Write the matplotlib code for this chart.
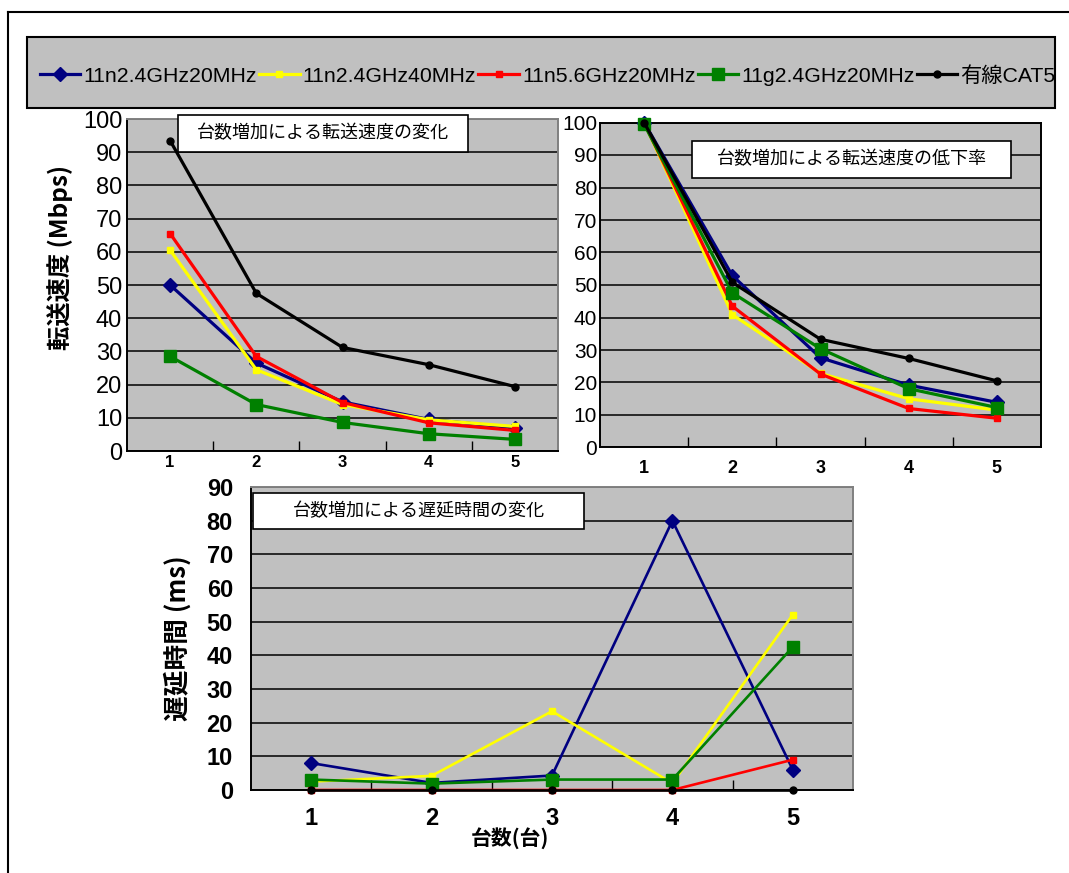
import matplotlib
matplotlib.use('Agg')
import matplotlib.pyplot as plt
from matplotlib.patches import Rectangle
from matplotlib.lines import Line2D
from matplotlib.ticker import FixedLocator

# ---------------- data ----------------
units = [1, 2, 3, 4, 5]
series_names = ['11n2.4GHz20MHz', '11n2.4GHz40MHz', '11n5.6GHz20MHz',
                '11g2.4GHz20MHz', '有線CAT5']

speed_n24_20 = [50, 26.5, 14.8, 9.5, 7.0]
speed_n24_40 = [60.5, 24.5, 14.0, 9.4, 7.4]
speed_n56_20 = [65.5, 28.5, 14.6, 8.5, 6.2]
speed_g24_20 = [28.5, 14.0, 8.6, 5.2, 3.5]
speed_cat5 = [93.5, 47.5, 31.2, 26.0, 19.4]

rate_n24_20 = [100, 52.9, 27.6, 19.2, 13.9]
rate_n24_40 = [100, 40.9, 22.8, 15.0, 11.5]
rate_n56_20 = [100, 43.5, 22.6, 12.0, 9.0]
rate_g24_20 = [99.5, 47.6, 30.4, 18.1, 12.3]
rate_cat5 = [100, 50.8, 33.3, 27.4, 20.5]

delay_n24_20 = [8.0, 2.1, 4.3, 80.0, 6.0]
delay_n24_40 = [2.5, 4.2, 23.4, 2.0, 52.1]
delay_n56_20 = [0, 0, 0, 0, 9.0]
delay_g24_20 = [3.1, 1.9, 3.1, 3.1, 42.5]
delay_cat5 = [0, 0, 0, 0, 0]

speed = [speed_n24_20, speed_n24_40, speed_n56_20, speed_g24_20, speed_cat5]
rate = [rate_n24_20, rate_n24_40, rate_n56_20, rate_g24_20, rate_cat5]
delay = [delay_n24_20, delay_n24_40, delay_n56_20, delay_g24_20, delay_cat5]

title_speed = '台数増加による転送速度の変化'
title_rate = '台数増加による転送速度の低下率'
title_delay = '台数増加による遅延時間の変化'

# ---------------- styles ----------------
colors = ['#000080', '#FFFF00', '#FF0000', '#008000', '#000000']
markers = ['D', 's', 's', 's', 'o']
msizes = [7.5, 5.0, 5.0, 8.5, 5.0]

LAT = ['Liberation Sans', 'Noto Sans CJK JP']
plt.rcParams['font.family'] = LAT

W, H = 1069, 873
fig = plt.figure(figsize=(W / 100, H / 100), dpi=100)


def rect(l, t, r, b):
    return [l / W, 1 - b / H, (r - l) / W, (b - t) / H]


GRAY = '#C0C0C0'


def setup(ax, ymax, ystep, ytick_fs, ytick_pad, xtick_fs, xtick_pad, xbold, ybold,
          spine_colors):
    ax.set_facecolor(GRAY)
    ax.set_xlim(0.5, 5.5)
    ax.set_ylim(0, ymax)
    ax.set_xticks(units)
    ax.xaxis.set_minor_locator(FixedLocator([1.5, 2.5, 3.5, 4.5]))
    ax.set_yticks(list(range(0, ymax + 1, ystep)))
    ax.tick_params(axis='x', which='major', length=0, pad=xtick_pad)
    ax.tick_params(axis='x', which='minor', direction='in', length=7, width=1, color='black')
    ax.tick_params(axis='y', length=0, pad=ytick_pad)
    for lab in ax.get_xticklabels():
        lab.set_fontsize(xtick_fs)
        lab.set_fontweight('bold' if xbold else 'normal')
    for lab in ax.get_yticklabels():
        lab.set_fontsize(ytick_fs)
        lab.set_fontweight('bold' if ybold else 'normal')
    ax.grid(axis='y', color='black', linewidth=1.1)
    ax.set_axisbelow(True)
    for side, c in spine_colors.items():
        ax.spines[side].set_color(c)
        ax.spines[side].set_linewidth(1.4)


def draw(ax, data, lw):
    handles = []
    for vals, c, m, ms, name in zip(data, colors, markers, msizes, series_names):
        h, = ax.plot(units, vals, color=c, marker=m, markersize=ms, linewidth=lw,
                     markeredgecolor=c, label=name, clip_on=False, zorder=3)
        handles.append(h)
    return handles


# top-left: speed
ax1 = fig.add_axes(rect(127, 119, 558, 451))
setup(ax1, 100, 10, 17, 3.5, 12, 3, True, False,
      {'left': 'black', 'bottom': 'black', 'top': '#808080', 'right': '#808080'})
handles = draw(ax1, speed, 2.3)

# top-right: rate
ax2 = fig.add_axes(rect(600, 122.5, 1041, 447.5))
setup(ax2, 100, 10, 15, 2, 13, 9, True, False,
      {'left': 'black', 'bottom': 'black', 'top': 'black', 'right': 'black'})
draw(ax2, rate, 2.3)

# bottom: delay
ax3 = fig.add_axes(rect(251, 487, 853, 790))
setup(ax3, 90, 10, 17, 13, 17, 12, True, True,
      {'left': 'black', 'bottom': 'black', 'top': '#808080', 'right': '#808080'})
draw(ax3, delay, 1.9)

# title boxes (figure level, drawn over axes)
def title_box(l, t, r, b, text):
    fig.add_artist(Rectangle((l / W, 1 - b / H), (r - l) / W, (b - t) / H,
                             transform=fig.transFigure, facecolor='white',
                             edgecolor='black', linewidth=1.2, zorder=5))
    fig.text((l + r) / 2 / W, 1 - (t + b) / 2 / H, text, ha='center', va='center',
             fontsize=13, family=['Noto Sans CJK JP'], zorder=6)

title_box(178, 115, 468, 152, title_speed)
title_box(692, 141, 1011, 178, title_rate)
title_box(253, 493, 584, 529, title_delay)

# axis labels
fig.text(60 / W, 1 - 257 / H, '転送速度 (Mbps)', rotation=90, ha='center', va='center',
         fontsize=17.5, fontweight='bold', family=['Noto Sans CJK JP'])
fig.text(178 / W, 1 - 638 / H, '遅延時間 (ms)', rotation=90, ha='center', va='center',
         fontsize=18.5, fontweight='bold', family=['Noto Sans CJK JP'])
fig.text(510 / W, 1 - 838 / H, '台数(台)', ha='center', va='center',
         fontsize=15, fontweight='bold', family=['Noto Sans CJK JP'])

# legend box
fig.add_artist(Rectangle((27 / W, 1 - 108 / H), (1055 - 27) / W, (108 - 37) / H,
                         transform=fig.transFigure, facecolor=GRAY,
                         edgecolor='black', linewidth=1.5, zorder=1))
leg = fig.legend(handles, series_names, loc='center left',
                 bbox_to_anchor=(40 / W, 1 - 76 / H), ncol=5, frameon=False,
                 handlelength=1.9, handletextpad=0.15, columnspacing=0.1,
                 borderpad=0, borderaxespad=0,
                 prop={'family': LAT, 'size': 15.3})
leg.set_zorder(3)

# outer frame
fig.add_artist(Line2D([8 / W, 1.0], [1 - 12 / H, 1 - 12 / H], transform=fig.transFigure,
                      color='black', linewidth=1.5))
fig.add_artist(Line2D([8 / W, 8 / W], [1 - 12 / H, 0], transform=fig.transFigure,
                      color='black', linewidth=1.5))

fig.savefig('out.png', dpi=100, facecolor='white')
